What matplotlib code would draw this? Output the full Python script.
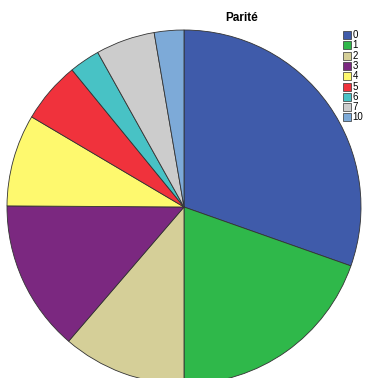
import matplotlib
matplotlib.use("Agg")
import matplotlib.pyplot as plt
from matplotlib.patches import Rectangle

plt.rcParams['font.family'] = ['Liberation Sans', 'DejaVu Sans']

# share of each parity value (percent)
categories = ['0', '1', '2', '3', '4', '5', '6', '7', '10']
shares = [30.4, 19.6, 11.3, 13.8, 8.4, 5.6, 2.8, 5.4, 2.7]
colors = ['#3F5BAA', '#2FB84A', '#D5CF98', '#7B2880', '#FEF96E',
          '#F0323C', '#48C2C5', '#CCCCCC', '#7DAAD8']

W, H = 380, 378
fig = plt.figure(figsize=(W / 100, H / 100), dpi=100)

# pie centre and radius in pixels (from the top left corner)
cx, cy, r = 184, 207, 177
ax = fig.add_axes([(cx - r) / W, (H - cy - r) / H, 2 * r / W, 2 * r / H])
wedges, _ = ax.pie(shares, colors=colors, startangle=90, counterclock=False,
                   radius=1, wedgeprops=dict(edgecolor='#333333', linewidth=0.6))
for w in wedges:
    w.set_clip_on(False)
ax.set_xlim(-1, 1)
ax.set_ylim(-1, 1)
ax.set_aspect('equal')
ax.axis('off')

fig.text(242 / W, 1 - 18 / H, 'Parité', ha='center', va='center',
         fontsize=8.5, fontweight='bold')

# legend drawn by hand, small squares down the right edge
for i, (lab, col) in enumerate(zip(categories, colors)):
    yc = 35 + i * 10.3
    fig.patches.append(Rectangle((343 / W, 1 - (yc + 4) / H), 8 / W, 8 / H,
                                 facecolor=col, edgecolor='#333333', linewidth=0.5,
                                 transform=fig.transFigure, figure=fig))
    fig.text(352.5 / W, 1 - yc / H, lab, ha='left', va='center', fontsize=7)

fig.savefig('out.png', dpi=100)
